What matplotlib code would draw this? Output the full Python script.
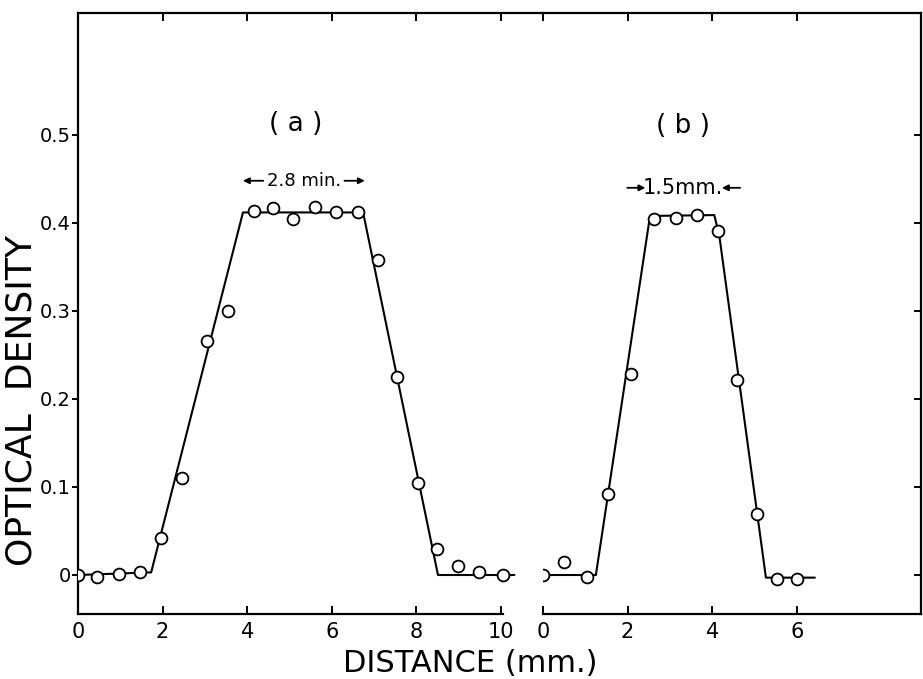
import matplotlib
matplotlib.use("Agg")
import matplotlib.pyplot as plt

# ---- data ----
# panel (a): measured points
a_x = [0.0, 0.46, 0.97, 1.46, 1.96, 2.46, 3.04, 3.54, 4.15, 4.60, 5.09,
       5.60, 6.11, 6.62, 7.09, 7.55, 8.04, 8.48, 8.99, 9.48, 10.04]
a_y = [0.0, -0.002, 0.001, 0.003, 0.042, 0.110, 0.266, 0.300, 0.414, 0.417,
       0.405, 0.418, 0.412, 0.412, 0.358, 0.225, 0.104, 0.030, 0.010, 0.003, 0.0]
# panel (a): fitted trapezoid line
a_line_x = [0.0, 1.73, 3.90, 6.74, 8.51, 10.31]
a_line_y = [0.0, 0.003, 0.412, 0.412, 0.0, 0.0]

# panel (b): measured points
b_x = [0.0, 0.50, 1.05, 1.53, 2.08, 2.63, 3.14, 3.65, 4.13, 4.59, 5.05, 5.53, 6.0]
b_y = [0.0, 0.015, -0.002, 0.092, 0.228, 0.404, 0.406, 0.409, 0.391, 0.222,
       0.069, -0.004, -0.004]
# panel (b): fitted line
b_line_x = [0.0, 1.25, 2.53, 4.05, 4.17, 5.27, 6.42]
b_line_y = [0.0, 0.0, 0.408, 0.409, 0.385, -0.003, -0.003]

y_ticks = [0, 0.1, 0.2, 0.3, 0.4, 0.5]
y_ticklabels = ["0", "0.1", "0.2", "0.3", "0.4", "0.5"]
a_xticks = [0, 2, 4, 6, 8, 10]
b_xticks = [0, 2, 4, 6]

plt.rcParams['font.family'] = ['DejaVu Sans']

W, H = 923, 679
fig = plt.figure(figsize=(W / 100, H / 100), dpi=100)

bottom_px, top_px = 614, 13
zero_px, px_per_unit_y = 575, 880.0
ax_bottom = (H - bottom_px) / H
ax_height = (bottom_px - top_px) / H
scale = 42.3  # px per mm
a_left, split, right = 78, 543, 921

ax_a = fig.add_axes([a_left / W, ax_bottom, (split - a_left) / W, ax_height])
ax_b = fig.add_axes([split / W, ax_bottom, (right - split) / W, ax_height])

ylim = (-(bottom_px - zero_px) / px_per_unit_y, (zero_px - top_px) / px_per_unit_y)

lw = 1.5
mk = dict(marker='o', markersize=8.5, markerfacecolor='white',
          markeredgecolor='black', markeredgewidth=1.3, linestyle='none', zorder=3)

# ---- panel (a) ----
ax_a.plot(a_line_x, a_line_y, color='black', lw=lw, zorder=2)
ax_a.plot(a_x, a_y, **mk)
ax_a.set_xlim(0, (split - a_left) / scale)
ax_a.set_ylim(*ylim)
ax_a.spines['right'].set_visible(False)
ax_a.spines['bottom'].set_bounds(0, 10.05)
for s in ax_a.spines.values():
    s.set_linewidth(1.6)
ax_a.set_xticks(a_xticks)
ax_a.set_xticklabels([str(t) for t in a_xticks])
ax_a.set_yticks(y_ticks)
ax_a.set_yticklabels(y_ticklabels)
ax_a.tick_params(axis='x', direction='in', length=6, width=1.4, top=True,
                 labelsize=15, pad=6)
ax_a.tick_params(axis='y', direction='out', length=4, width=1.4,
                 labelsize=14, pad=1)

# ---- panel (b) ----
ax_b.plot(b_line_x, b_line_y, color='black', lw=lw, zorder=2)
ax_b.plot(b_x, b_y, **mk)
ax_b.set_xlim(0, (right - split) / scale)
ax_b.set_ylim(*ylim)
ax_b.spines['left'].set_visible(False)
for s in ax_b.spines.values():
    s.set_linewidth(1.6)
ax_b.set_xticks(b_xticks)
ax_b.set_xticklabels([str(t) for t in b_xticks])
ax_b.tick_params(axis='x', direction='in', length=6, width=1.4, top=True,
                 labelsize=15, pad=6)
ax_b.set_yticks(y_ticks)
ax_b.tick_params(axis='y', direction='in', length=5, width=1.4, left=False,
                 right=True, labelleft=False, labelright=False)

for ax in (ax_a, ax_b):
    ax.patch.set_alpha(0)

# ---- annotations ----
ax_a.text(5.15, 0.512, "( a )", ha='center', va='center', fontsize=19)
ax_b.text(3.31, 0.51, "( b )", ha='center', va='center', fontsize=19)

ax_a.text(5.34, 0.448, "2.8 min.", ha='center', va='center', fontsize=13)
arr = dict(arrowstyle='-|>', color='black', lw=1.3, mutation_scale=9,
           shrinkA=0, shrinkB=0)
ax_a.annotate('', xy=(3.90, 0.448), xytext=(4.38, 0.448), arrowprops=arr)
ax_a.annotate('', xy=(6.78, 0.448), xytext=(6.30, 0.448), arrowprops=arr)

ax_b.text(3.31, 0.44, "1.5mm.", ha='center', va='center', fontsize=15)
ax_b.annotate('', xy=(2.42, 0.44), xytext=(1.99, 0.44), arrowprops=arr)
ax_b.annotate('', xy=(4.23, 0.44), xytext=(4.66, 0.44), arrowprops=arr)

fig.text(22 / W, 1 - 400 / H, "OPTICAL  DENSITY", rotation=90,
         ha='center', va='center', fontsize=26)
fig.text(470 / W, 1 - 664 / H, "DISTANCE (mm.)", ha='center', va='center',
         fontsize=22)

fig.savefig("out.png", dpi=100, facecolor='white')
